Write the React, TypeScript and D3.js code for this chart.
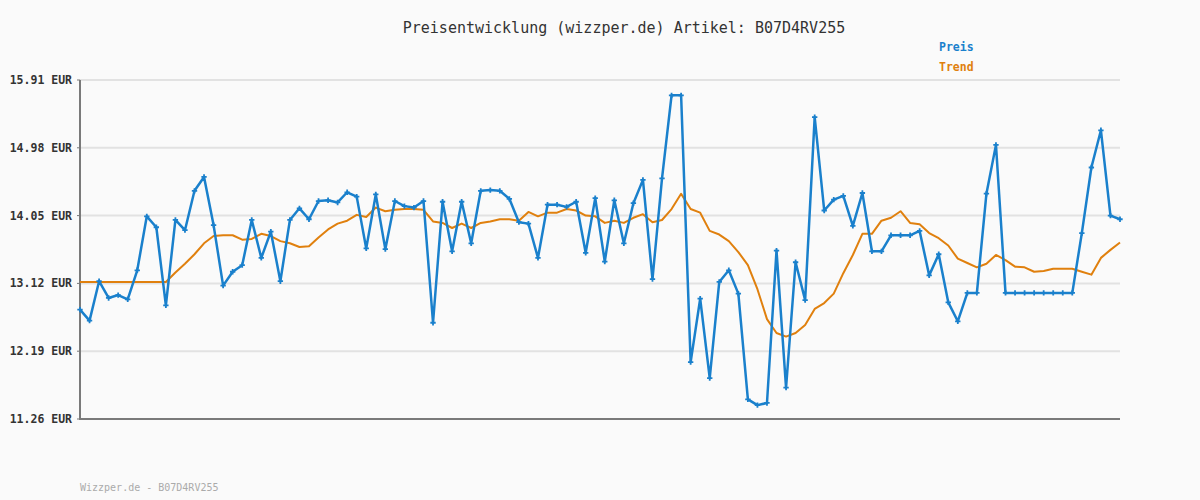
import { useEffect, useRef } from "react";
import * as d3 from "d3";

const TITLE = "Preisentwicklung (wizzper.de) Artikel: B07D4RV255";
const FOOTER = "Wizzper.de - B07D4RV255";

const yTicks = [15.91, 14.98, 14.05, 13.12, 12.19, 11.26];

const preis = [
  12.76, 12.61, 13.15, 12.92, 12.96, 12.9, 13.3, 14.04, 13.89, 12.82,
  13.99, 13.85, 14.39, 14.58, 13.92, 13.09, 13.28, 13.37, 13.99, 13.47,
  13.83, 13.15, 13.99, 14.15, 14.0, 14.25, 14.26, 14.23, 14.37, 14.31,
  13.6, 14.34, 13.59, 14.25, 14.18, 14.16, 14.25, 12.58, 14.24, 13.56,
  14.24, 13.67, 14.39, 14.4, 14.39, 14.28, 13.96, 13.94, 13.47, 14.2,
  14.2, 14.17, 14.24, 13.54, 14.29, 13.42, 14.26, 13.67, 14.22, 14.54,
  13.18, 14.56, 15.7, 15.7, 12.04, 12.91, 11.82, 13.14, 13.3, 12.98,
  11.53, 11.45, 11.48, 13.57, 11.69, 13.41, 12.89, 15.4, 14.12, 14.27,
  14.32, 13.91, 14.36, 13.56, 13.56, 13.78, 13.78, 13.78, 13.84, 13.23,
  13.52, 12.86, 12.6, 12.99, 12.99, 14.35, 15.02, 12.99, 12.99, 12.99,
  12.99, 12.99, 12.99, 12.99, 12.99, 13.81, 14.71, 15.22, 14.05, 14.0,
];

const trend = [
  13.14, 13.14, 13.14, 13.14, 13.14, 13.14, 13.14, 13.14, 13.14, 13.14,
  13.27, 13.39, 13.52, 13.67, 13.77, 13.78, 13.78, 13.72, 13.73, 13.8,
  13.77, 13.7, 13.67, 13.62, 13.63, 13.75, 13.86, 13.94, 13.98, 14.06,
  14.03, 14.16, 14.11, 14.13, 14.14, 14.14, 14.13, 13.97, 13.95, 13.88,
  13.94, 13.88, 13.95, 13.97, 14.0, 14.0, 13.98, 14.1, 14.04, 14.09,
  14.09, 14.14, 14.12, 14.05, 14.04, 13.95, 13.98, 13.95, 14.02, 14.07,
  13.96, 13.99, 14.14, 14.35, 14.14, 14.09, 13.84, 13.79, 13.7, 13.55,
  13.37, 13.04, 12.63, 12.44, 12.39, 12.44, 12.55, 12.77, 12.85, 12.98,
  13.26, 13.51, 13.8, 13.8, 13.98, 14.02, 14.11, 13.95, 13.93, 13.81,
  13.74, 13.64, 13.46, 13.4, 13.34, 13.39, 13.51, 13.44, 13.35, 13.34,
  13.28, 13.29, 13.32, 13.32, 13.32, 13.28, 13.24, 13.47, 13.58, 13.68,
];

const BLUE = "#1a80cc";
const ORANGE = "#e0800e";
const FONT = "'DejaVu Sans Mono', 'Liberation Mono', monospace";

export default function App() {
  const svgRef = useRef<SVGSVGElement>(null);

  useEffect(() => {
    if (!svgRef.current) return;
    const svg = d3.select(svgRef.current);
    svg.selectAll("*").remove();

    const W = 1200;
    const H = 500;
    const margin = { top: 80, right: 80, bottom: 81, left: 80 };

    svg.append("rect").attr("width", W).attr("height", H).attr("fill", "#fafafa");

    const x = d3
      .scaleLinear()
      .domain([0, preis.length - 1])
      .range([margin.left, W - margin.right]);
    const y = d3
      .scaleLinear()
      .domain([11.26, 15.91])
      .range([H - margin.bottom, margin.top]);

    // gridlines
    svg
      .append("g")
      .selectAll("line")
      .data(yTicks)
      .enter()
      .append("line")
      .attr("x1", margin.left)
      .attr("x2", W - margin.right)
      .attr("y1", (d) => y(d))
      .attr("y2", (d) => y(d))
      .attr("stroke", "#e2e2e2")
      .attr("stroke-width", 2);

    // y tick labels
    svg
      .append("g")
      .selectAll("text")
      .data(yTicks)
      .enter()
      .append("text")
      .attr("x", 72)
      .attr("y", (d) => y(d))
      .attr("dy", "0.35em")
      .attr("text-anchor", "end")
      .style("font-family", FONT)
      .style("font-size", "11.5px")
      .style("font-weight", "bold")
      .style("fill", "#333")
      .text((d) => `${d.toFixed(2)} EUR`);

    // tick marks
    svg
      .append("g")
      .selectAll("line")
      .data(yTicks)
      .enter()
      .append("line")
      .attr("x1", margin.left - 3)
      .attr("x2", margin.left)
      .attr("y1", (d) => y(d))
      .attr("y2", (d) => y(d))
      .attr("stroke", "#777")
      .attr("stroke-width", 1);

    // axes
    svg
      .append("path")
      .attr(
        "d",
        `M${margin.left},${y(15.91)}V${y(11.26)}H${W - margin.right}`
      )
      .attr("fill", "none")
      .attr("stroke", "#7a7a7a")
      .attr("stroke-width", 2);

    const lineGen = d3
      .line<number>()
      .x((_d, i) => x(i))
      .y((d) => y(d));

    svg
      .append("path")
      .datum(trend)
      .attr("d", lineGen)
      .attr("fill", "none")
      .attr("stroke", ORANGE)
      .attr("stroke-width", 2)
      .attr("stroke-linejoin", "round");

    svg
      .append("path")
      .datum(preis)
      .attr("d", lineGen)
      .attr("fill", "none")
      .attr("stroke", BLUE)
      .attr("stroke-width", 2.5)
      .attr("stroke-linejoin", "round");

    const sym = d3.symbol().type(d3.symbolCross).size(16);
    svg
      .append("g")
      .selectAll("path")
      .data(preis)
      .enter()
      .append("path")
      .attr("transform", (d, i) => `translate(${x(i)},${y(d)})`)
      .attr("d", sym as any)
      .attr("fill", BLUE);

    // title
    svg
      .append("text")
      .attr("x", 624)
      .attr("y", 33)
      .attr("text-anchor", "middle")
      .style("font-family", FONT)
      .style("font-size", "15px")
      .style("fill", "#333")
      .text(TITLE);

    // legend
    const legend = [
      { label: "Preis", color: BLUE, y: 51 },
      { label: "Trend", color: ORANGE, y: 71 },
    ];
    svg
      .append("g")
      .selectAll("text")
      .data(legend)
      .enter()
      .append("text")
      .attr("x", 939)
      .attr("y", (d) => d.y)
      .style("font-family", FONT)
      .style("font-size", "11.5px")
      .style("font-weight", "bold")
      .style("fill", (d) => d.color)
      .text((d) => d.label);

    // footer
    svg
      .append("text")
      .attr("x", 80)
      .attr("y", 491)
      .style("font-family", FONT)
      .style("font-size", "10px")
      .style("fill", "#aaa")
      .text(FOOTER);
  }, []);

  return (
    <svg
      ref={svgRef}
      width={1200}
      height={500}
      style={{ position: "absolute", left: 0, top: 0, display: "block" }}
    />
  );
}
